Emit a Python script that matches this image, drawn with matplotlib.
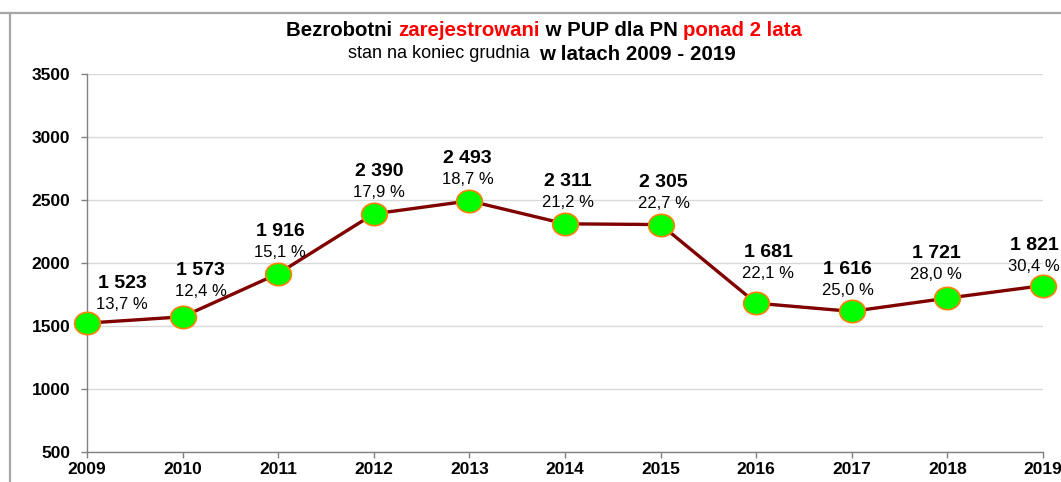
import numpy as np
import matplotlib.pyplot as plt
from matplotlib.path import Path
from matplotlib.transforms import Affine2D
from matplotlib.lines import Line2D

plt.rcParams['font.family'] = ['Liberation Sans', 'DejaVu Sans']

# data
years = [2009, 2010, 2011, 2012, 2013, 2014, 2015, 2016, 2017, 2018, 2019]
values = [1523, 1573, 1916, 2390, 2493, 2311, 2305, 1681, 1616, 1721, 1821]
value_labels = ['1 523', '1 573', '1 916', '2 390', '2 493', '2 311',
                '2 305', '1 681', '1 616', '1 721', '1 821']
pct_labels = ['13,7 %', '12,4 %', '15,1 %', '17,9 %', '18,7 %', '21,2 %',
              '22,7 %', '22,1 %', '25,0 %', '28,0 %', '30,4 %']
y_ticks = [500, 1000, 1500, 2000, 2500, 3000, 3500]

# label shifts in pixels (layout only)
lab_dx = [35, 18, 2, 5, -2, 3, 3, 12, -4, -11, -9]
lab_dy = [-2, 4, 0, 0, 0, 0, 0, 9, 0, 3, -2]

fig = plt.figure(figsize=(10.61, 4.82), dpi=100)
ax = fig.add_axes([87/1061, 1 - 452/482, (1043 - 87)/1061, (452 - 74)/482])

ellipse = Path.unit_circle().transformed(Affine2D().scale(1.15, 1.0))

ax.plot(years, values, color='#800000', lw=2.4, zorder=3,
        marker=ellipse, markersize=18.5, markerfacecolor='#00ff00',
        markeredgecolor='#ff8000', markeredgewidth=1.2, clip_on=False)

for x, v, vl, pl, dx, dy in zip(years, values, value_labels, pct_labels, lab_dx, lab_dy):
    ax.annotate(vl, (x, v), xytext=(dx, 42 + dy), textcoords='offset pixels',
                ha='center', va='center', fontsize=14, fontweight='bold', zorder=4)
    ax.annotate(pl, (x, v), xytext=(dx, 21 + dy), textcoords='offset pixels',
                ha='center', va='center', fontsize=12, zorder=4)

ax.set_xlim(2009, 2019)
ax.set_ylim(500, 3500)
ax.set_xticks(years)
ax.set_yticks(y_ticks)
for lab in ax.get_xticklabels() + ax.get_yticklabels():
    lab.set_fontweight('bold')
ax.tick_params(axis='y', labelsize=12.5, length=4, width=1, color='#808080', pad=8)
ax.tick_params(axis='x', labelsize=12.5, length=4, width=1, color='#808080', pad=3.5)
ax.grid(axis='y', color='#d9d9d9', lw=1)
ax.set_axisbelow(True)
for s in ['top', 'right']:
    ax.spines[s].set_visible(False)
for s in ['left', 'bottom']:
    ax.spines[s].set_color('#808080')
    ax.spines[s].set_linewidth(1)

# chart frame (cropped)
fig.add_artist(Line2D([0, 1], [1 - 13/482, 1 - 13/482], color='#a6a6a6', lw=1.6))
fig.add_artist(Line2D([10/1061, 10/1061], [0, 1 - 13/482], color='#a6a6a6', lw=1.6))


def multi_text(parts, y, xc):
    texts = []
    for s, c, w, fs in parts:
        texts.append(fig.text(0, y, s, color=c, fontweight=w, fontsize=fs,
                              ha='left', va='center'))
    r = fig.canvas.get_renderer()
    widths = [t.get_window_extent(r).width for t in texts]
    x = xc * fig.bbox.width - sum(widths) / 2
    for t, wd in zip(texts, widths):
        t.set_x(x / fig.bbox.width)
        x += wd


multi_text([('Bezrobotni ', 'black', 'bold', 14.7),
            ('zarejestrowani', 'red', 'bold', 14.7),
            (' w PUP dla PN ', 'black', 'bold', 14.7),
            ('ponad 2 lata', 'red', 'bold', 14.7)], 1 - 31/482, 544/1061)
multi_text([('stan na koniec grudnia  ', 'black', 'normal', 13),
            ('w latach 2009 - 2019', 'black', 'bold', 14.8)], 1 - 54/482, 542/1061)

fig.savefig('out.png', dpi=100)
